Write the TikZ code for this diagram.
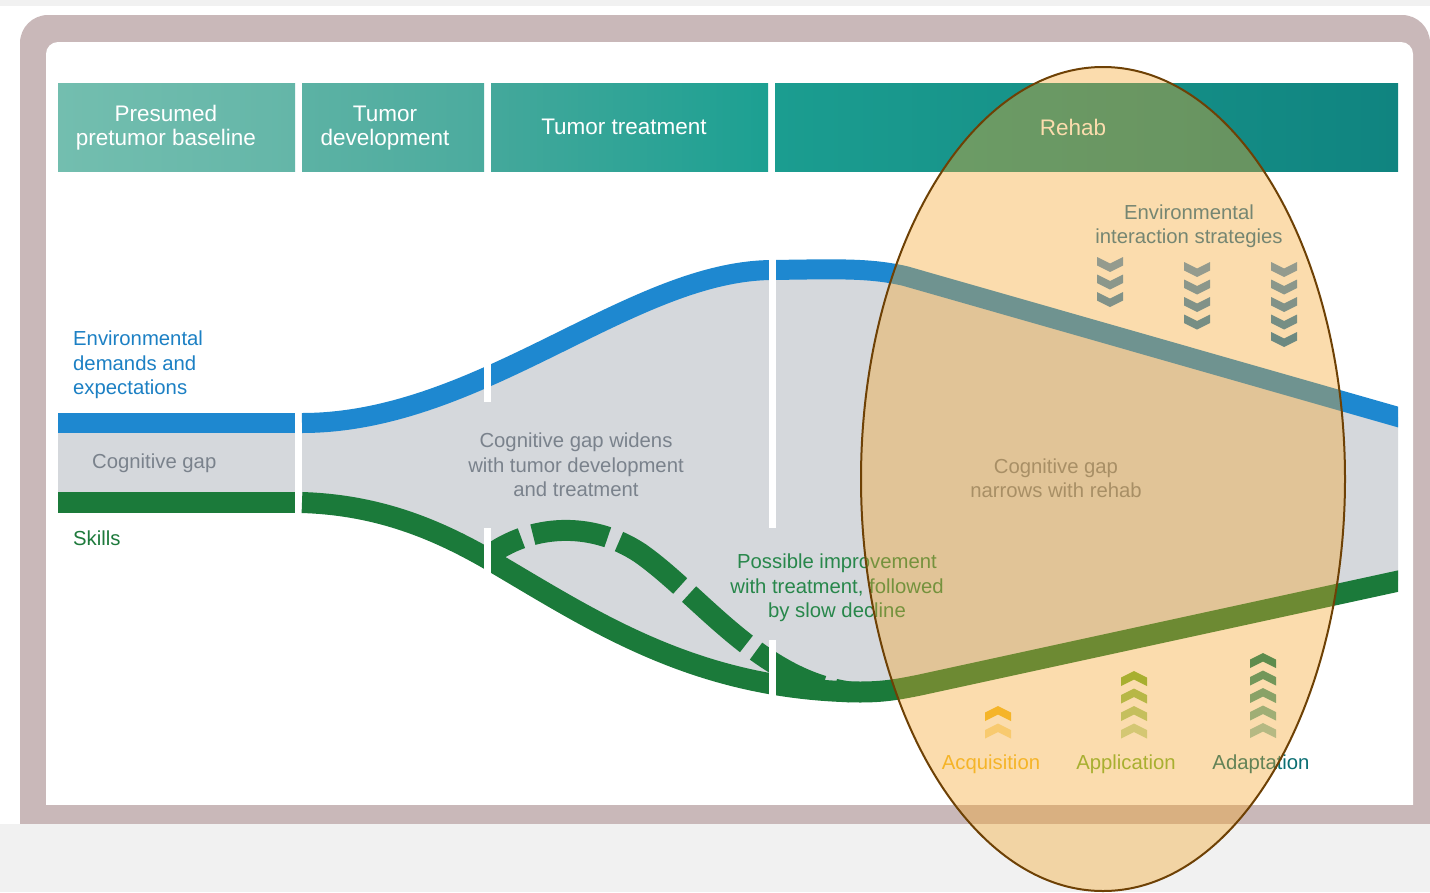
\documentclass[tikz,border=0pt]{standalone}
\usepackage{fontspec}
\setmainfont{Liberation Sans}
\usetikzlibrary{shapes.geometric}

% page and frame
\definecolor{pagegray}{RGB}{241,241,241}
\definecolor{framemauve}{RGB}{201,184,185}
% header gradient stops
\definecolor{hdrA}{RGB}{115,190,175}
\definecolor{hdrB}{RGB}{100,182,168}
\definecolor{hdrC}{RGB}{92,178,164}
\definecolor{hdrD}{RGB}{75,171,158}
\definecolor{hdrE}{RGB}{68,168,155}
\definecolor{hdrF}{RGB}{28,160,146}
\definecolor{hdrG}{RGB}{27,157,144}
\definecolor{hdrH}{RGB}{16,132,128}
% bands
\definecolor{bandblue}{RGB}{30,136,208}
\definecolor{bandgreen}{RGB}{27,122,58}
\definecolor{gapgray}{RGB}{213,216,220}
% texts
\definecolor{bluetext}{RGB}{28,128,196}
\definecolor{greentext}{RGB}{30,122,60}
\definecolor{improvetext}{RGB}{40,135,75}
\definecolor{graytext}{RGB}{122,130,140}
\definecolor{stratext}{RGB}{40,115,160}
% chevrons
\definecolor{envlight}{RGB}{90,150,205}
\definecolor{envdark}{RGB}{25,120,185}
\definecolor{acqcol}{RGB}{245,190,40}
\definecolor{applcol}{RGB}{121,182,53}
\definecolor{adaptchev}{RGB}{0,125,100}
\definecolor{adapttext}{RGB}{10,110,115}
% rehab focus
\definecolor{focusfill}{RGB}{245,165,40}
\definecolor{focusline}{RGB}{110,65,5}

\begin{document}
\begin{tikzpicture}[x=1pt,y=-1pt,
  hdrbox/.style={rectangle, minimum height=88pt, inner sep=0pt},
  hdrtext/.style={inner sep=0pt, text=white, align=center, font=\fontsize{22.5}{24}\selectfont},
  lbl/.style={inner sep=0pt, font=\fontsize{20.3}{24.5}\selectfont},
  blueband/.style={draw=bandblue, line width=20pt},
  greenband/.style={draw=bandgreen, line width=21pt},
  gapcut/.style={draw=white, line width=7pt},
  chevdown/.pic={\fill[#1] (-13,0) -- (0,6.5) -- (13,0) -- (13,8.5) -- (0,15) -- (-13,8.5) -- cycle;},
  chevup/.pic={\fill[#1] (-13,6.5) -- (0,0) -- (13,6.5) -- (13,15) -- (0,8.5) -- (-13,15) -- cycle;},
  focus/.style={ellipse, minimum width=484pt, minimum height=824pt, inner sep=0pt,
    fill=focusfill, fill opacity=0.38, draw=focusline, draw opacity=1, line width=2pt}
]
\useasboundingbox (0,0) rectangle (1430,892);

% ---- page, frame ----
\fill[pagegray] (0,0) rectangle (1430,892);
\fill[white] (0,6) rectangle (1430,824);
\fill[framemauve, rounded corners=28pt] (20,15) rectangle (1430,880);
\fill[white, rounded corners=12pt] (46,42) rectangle (1413,830);
\fill[framemauve] (20,805) rectangle (1430,824);
\fill[pagegray] (0,824) rectangle (1430,892);

% ---- phase header ----
\node[hdrbox, minimum width=237pt, left color=hdrA, right color=hdrB] (box1) at (176.5,127) {};
\node[hdrbox, minimum width=182pt, left color=hdrC, right color=hdrD] (box2) at (393,127) {};
\node[hdrbox, minimum width=277pt, left color=hdrE, right color=hdrF] (box3) at (629.5,127) {};
\node[hdrbox, minimum width=623pt, left color=hdrG, right color=hdrH] (box4) at (1086.5,127) {};
\node[hdrtext] (t1) at (166,128) {Presumed\\pretumor baseline};
\node[hdrtext] (t2) at (385,128) {Tumor\\development};
\node[hdrtext] (t3) at (624,127) {Tumor treatment};
\node[hdrtext] (t4) at (1073,127) {Rehab};

% ---- cognitive gap area ----
\fill[gapgray] (58,423) rectangle (295,502.5);
\fill[gapgray] (302,423) .. controls (480,423) and (630,271) .. (772,270)
  .. controls (840,269) and (870,268) .. (905,276) -- (1398,417) -- (1398,581)
  -- (920,685) .. controls (900,689) and (885,692) .. (860,692)
  .. controls (700,690) and (600,625) .. (500,566)
  .. controls (440,530) and (380,505) .. (302,502.5) -- cycle;

% ---- demands (blue) and skills (green) ----
\begin{scope}
\clip (40,200) rectangle (1398,760);
\draw[blueband] (58,423) -- (295,423);
\draw[greenband] (58,502.5) -- (295,502.5);
\draw[blueband] (302,423) .. controls (480,423) and (630,271) .. (772,270)
  .. controls (840,269) and (870,268) .. (905,276) -- (1440,429);
\draw[greenband] (302,502.5) .. controls (380,505) and (440,530) .. (500,566)
  .. controls (600,625) and (700,690) .. (860,692)
  .. controls (885,692) and (900,689) .. (920,685) -- (1440,572);
\draw[greenband, dash pattern=on 76pt off 12pt, dash phase=38pt]
  (488,556) .. controls (530,525) and (590,520) .. (640,553)
  .. controls (700,595) and (760,680) .. (850,692);
\end{scope}

% phase boundaries across the bands
\draw[gapcut] (487.5,362) -- (487.5,402);
\draw[gapcut] (487.5,528) -- (487.5,578);
\draw[gapcut] (772,254) -- (772,528);
\draw[gapcut] (772,640) -- (772,704);

% ---- labels ----
\node[lbl, text=bluetext, align=left, anchor=west] (envdem) at (73,365)
  {Environmental\\demands and\\expectations};
\node[lbl, text=graytext, anchor=west] (gapleft) at (92,463) {Cognitive gap};
\node[lbl, text=greentext, anchor=west] (skills) at (73,538) {Skills};
\node[lbl, text=graytext, align=center] (widens) at (576,465)
  {Cognitive gap widens\\with tumor development\\and treatment};
\node[lbl, text=improvetext, align=center] (improve) at (837,588)
  {Possible improvement\\with treatment, followed\\by slow decline};
\node[lbl, text=graytext, align=center] (narrows) at (1056,478)
  {Cognitive gap\\narrows with rehab};
\node[lbl, text=stratext, align=center] (strat) at (1189,226)
  {Environmental\\interaction strategies};

% ---- environmental interaction strategies (downward chevrons) ----
\foreach \cx/\top/\n in {1110/257/2, 1197/262/3, 1284/262/4} {
  \foreach \i in {0,...,\n} {
    \pgfmathtruncatemacro{\p}{\i*25}
    \pic at (\cx,\top+17.5*\i) {chevdown={envdark!\p!envlight}};
  }
}

% ---- skill building (upward chevrons) ----
\foreach \i in {0,1} {
  \pgfmathtruncatemacro{\p}{100-54*\i}
  \pic at (998,706+17.5*\i) {chevup={acqcol!\p!white}};
}
\foreach \i in {0,...,3} {
  \pgfmathtruncatemacro{\p}{100-18*\i}
  \pic at (1134,671+17.5*\i) {chevup={applcol!\p!white}};
}
\foreach \i in {0,...,4} {
  \pgfmathtruncatemacro{\p}{100-14*\i}
  \pic at (1263,653+17.5*\i) {chevup={adaptchev!\p!white}};
}
\node[lbl, text=acqcol] (acq) at (991,764) {Acquisition};
\node[lbl, text=applcol] (appl) at (1126,764) {Application};
\node[lbl, text=adapttext] (adapt) at (1261,764) {Adaptation};

% ---- rehab focus ----
\node[focus] (rehabfocus) at (1103,479) {};
\end{tikzpicture}
\end{document}
